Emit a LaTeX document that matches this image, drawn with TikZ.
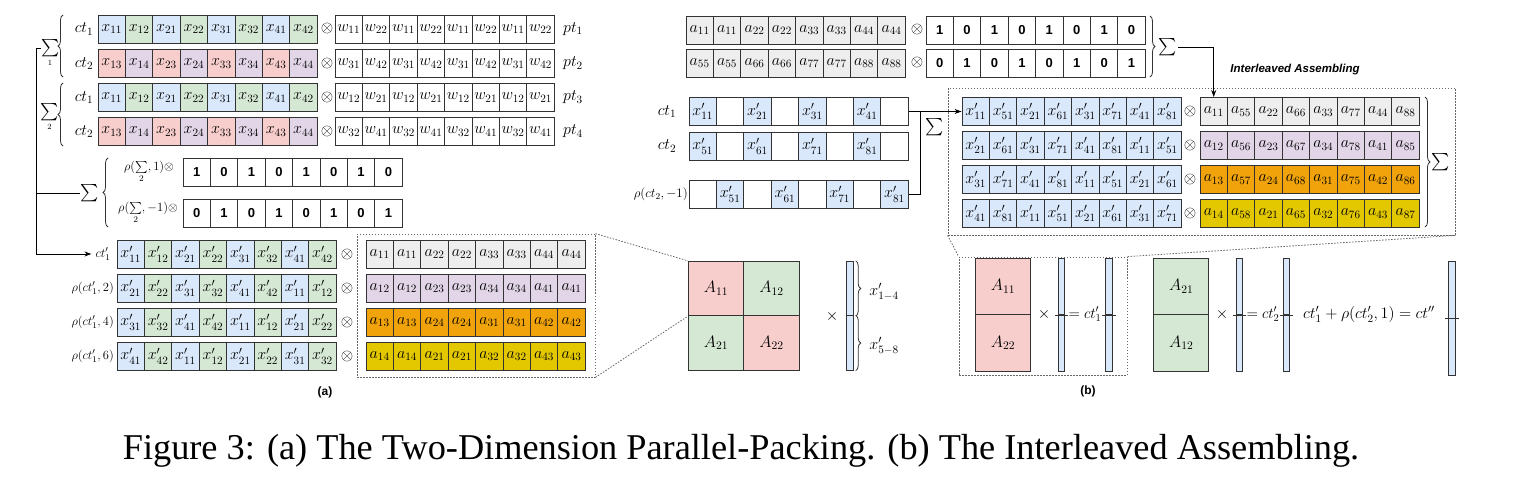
\documentclass[tikz,border=0pt]{standalone}
\usepackage{fix-cm}
\usepackage{exscale}
\usepackage{fontspec}
\newfontfamily\arialf{Liberation Sans}
\newfontfamily\timesf{Liberation Serif}
\usetikzlibrary{arrows.meta,decorations.pathreplacing}
\definecolor{bl}{HTML}{DAE8FC}
\definecolor{gn}{HTML}{D5E8D4}
\definecolor{pk}{HTML}{F8CECC}
\definecolor{vi}{HTML}{E1D5E7}
\definecolor{gy}{HTML}{EEEEEE}
\definecolor{og}{HTML}{F0A30A}
\definecolor{ye}{HTML}{E3C800}
\colorlet{wh}{white}
% une ligne de cases : nom, bord gauche, hauteur, liste texte/couleur
\newcommand{\cellrow}[4]{\foreach \t/\c [count=\i] in {#4}
  \node[cell,fill=\c] (#1-\i) at ({#2+27.4*\i-13.7},#3) {$\t$};}
\newcommand{\numrow}[4]{\foreach \t [count=\i] in {#4}
  \node[cell,fill=white,num] (#1-\i) at ({#2+27.4*\i-13.7},#3) {\t};}

\begin{document}
\begin{tikzpicture}[x=1pt,y=-1pt,
  every node/.style={font=\fontsize{16}{19}\selectfont,inner sep=1pt},
  cell/.style={draw=black!80,line width=0.9pt,minimum width=27.4pt,minimum height=28pt,inner sep=0pt},
  num/.style={font=\arialf\bfseries\fontsize{13}{15}\selectfont},
  sm/.style={font=\fontsize{12.5}{14}\selectfont},
  big/.style={font=\fontsize{18}{20}\selectfont},
  mat/.style={draw=black!80,line width=0.9pt,minimum width=55.5pt,minimum height=54.5pt,inner sep=0pt,font=\fontsize{16.5}{18}\selectfont},
  vbar/.style={draw=black!80,line width=0.9pt,fill=bl,minimum width=6.5pt,inner sep=0pt},
  br/.style={decorate,decoration={brace,amplitude=5pt},line width=0.8pt,black!80},
  dot/.style={dash pattern=on 1.5pt off 1.5pt,line width=0.8pt,black!60},
  ar/.style={-{Stealth[length=7pt,width=5pt]},line width=0.8pt}]

\useasboundingbox (0,0) rectangle (1520,497);

% partie (a)
\cellrow{xa}{98}{29}{x_{11}/bl,x_{12}/gn,x_{21}/bl,x_{22}/gn,x_{31}/bl,x_{32}/gn,x_{41}/bl,x_{42}/gn}
\cellrow{xb}{98}{63.5}{x_{13}/pk,x_{14}/vi,x_{23}/pk,x_{24}/vi,x_{33}/pk,x_{34}/vi,x_{43}/pk,x_{44}/vi}
\cellrow{xc}{98}{97.5}{x_{11}/bl,x_{12}/gn,x_{21}/bl,x_{22}/gn,x_{31}/bl,x_{32}/gn,x_{41}/bl,x_{42}/gn}
\cellrow{xd}{98}{131.5}{x_{13}/pk,x_{14}/vi,x_{23}/pk,x_{24}/vi,x_{33}/pk,x_{34}/vi,x_{43}/pk,x_{44}/vi}
\node (ca) at (84,29) {$ct_1$};
\node (cb) at (84,63.5) {$ct_2$};
\node (cc) at (84,97.5) {$ct_1$};
\node (cd) at (84,131.5) {$ct_2$};
\foreach \y [count=\k] in {29,63.5,97.5,131.5} \node (ox\k) at (327,\y) {$\otimes$};
\cellrow{wa}{335}{29}{w_{11}/wh,w_{22}/wh,w_{11}/wh,w_{22}/wh,w_{11}/wh,w_{22}/wh,w_{11}/wh,w_{22}/wh}
\cellrow{wb}{335}{63.5}{w_{31}/wh,w_{42}/wh,w_{31}/wh,w_{42}/wh,w_{31}/wh,w_{42}/wh,w_{31}/wh,w_{42}/wh}
\cellrow{wc}{335}{97.5}{w_{12}/wh,w_{21}/wh,w_{12}/wh,w_{21}/wh,w_{12}/wh,w_{21}/wh,w_{12}/wh,w_{21}/wh}
\cellrow{wd}{335}{131.5}{w_{32}/wh,w_{41}/wh,w_{32}/wh,w_{41}/wh,w_{32}/wh,w_{41}/wh,w_{32}/wh,w_{41}/wh}
\foreach \y [count=\k] in {29,63.5,97.5,131.5} \node (pt\k) at (573,\y) {$pt_\k$};

\draw[br] (63,77) -- (63,15);
\draw[br] (63,146) -- (63,83);
\node[big] (s1) at (51,48) {$\sum$};
\node[font=\fontsize{8}{9}\selectfont] (s1n) at (50,63) {$1$};
\node[big] (s2) at (49.5,112) {$\sum$};
\node[font=\fontsize{8}{9}\selectfont] (s2n) at (49.5,127) {$2$};

\node[big] (s3) at (90,193) {$\sum$};
\draw[br] (108,227) -- (108,158);
\node[sm] (m1l) at (149,172) {$\rho(\sum\limits_2,1)\otimes$};
\node[sm] (m2l) at (148,213) {$\rho(\sum\limits_2,-1)\otimes$};
\numrow{ma}{183}{172.5}{1,0,1,0,1,0,1,0}
\numrow{mb}{183}{213.5}{0,1,0,1,0,1,0,1}

\cellrow{pa}{117}{254}{x'_{11}/bl,x'_{12}/gn,x'_{21}/bl,x'_{22}/gn,x'_{31}/bl,x'_{32}/gn,x'_{41}/bl,x'_{42}/gn}
\cellrow{pb}{117}{288}{x'_{21}/bl,x'_{22}/gn,x'_{31}/bl,x'_{32}/gn,x'_{41}/bl,x'_{42}/gn,x'_{11}/bl,x'_{12}/gn}
\cellrow{pc}{117}{322}{x'_{31}/bl,x'_{32}/gn,x'_{41}/bl,x'_{42}/gn,x'_{11}/bl,x'_{12}/gn,x'_{21}/bl,x'_{22}/gn}
\cellrow{pd}{117}{356}{x'_{41}/bl,x'_{42}/gn,x'_{11}/bl,x'_{12}/gn,x'_{21}/bl,x'_{22}/gn,x'_{31}/bl,x'_{32}/gn}
\node[sm] (lp1) at (103,254) {$ct'_1$};
\node[sm,anchor=east] (lp2) at (115,288) {$\rho(ct'_1,2)$};
\node[sm,anchor=east] (lp3) at (115,322) {$\rho(ct'_1,4)$};
\node[sm,anchor=east] (lp4) at (115,356) {$\rho(ct'_1,6)$};
\foreach \y [count=\k] in {254,288,322,356} \node (op\k) at (347,\y) {$\otimes$};
\cellrow{aa}{366}{254}{a_{11}/gy,a_{11}/gy,a_{22}/gy,a_{22}/gy,a_{33}/gy,a_{33}/gy,a_{44}/gy,a_{44}/gy}
\cellrow{ab}{366}{288}{a_{12}/vi,a_{12}/vi,a_{23}/vi,a_{23}/vi,a_{34}/vi,a_{34}/vi,a_{41}/vi,a_{41}/vi}
\cellrow{ac}{366}{322}{a_{13}/og,a_{13}/og,a_{24}/og,a_{24}/og,a_{31}/og,a_{31}/og,a_{42}/og,a_{42}/og}
\cellrow{ad}{366}{356}{a_{14}/ye,a_{14}/ye,a_{21}/ye,a_{21}/ye,a_{32}/ye,a_{32}/ye,a_{43}/ye,a_{43}/ye}

\coordinate (tr) at (36,48);
\draw[line width=0.8pt] (s1.west) -- (tr);
\draw[ar,shorten >=3pt] (tr) |- (lp1.west);
\draw[line width=0.8pt] (s3.west) -- (s3.west -| tr);

\node[dot,draw,minimum width=238pt,minimum height=143pt,inner sep=0pt] (za) at (476,305.5) {};
\node[mat,fill=pk] (A11) at (716,288.5) {$A_{11}$};
\node[mat,fill=gn] (A12) at (771.5,288.5) {$A_{12}$};
\node[mat,fill=gn] (A21) at (716,343) {$A_{21}$};
\node[mat,fill=pk] (A22) at (771.5,343) {$A_{22}$};
\draw[dot] (za.north east) -- (A11.north west);
\draw[dot] (za.south east) -- (A11.south west);
\node (tx1) at (832,316) {$\times$};
\node[vbar,minimum height=54.5pt] (v1) at (850,288.5) {};
\node[vbar,minimum height=54.5pt] (v2) at (850,343) {};
\draw[br] ([xshift=2pt]v1.north east) -- ([xshift=2pt]v1.south east);
\draw[br] ([xshift=2pt]v2.north east) -- ([xshift=2pt]v2.south east);
\node (v1l) at (884,292) {$x'_{1-4}$};
\node (v2l) at (884,346) {$x'_{5-8}$};
\node[font=\arialf\bfseries\fontsize{12}{14}\selectfont] (la) at (325,392) {(a)};

% partie (b)
\cellrow{ta}{686}{30}{a_{11}/gy,a_{11}/gy,a_{22}/gy,a_{22}/gy,a_{33}/gy,a_{33}/gy,a_{44}/gy,a_{44}/gy}
\cellrow{tb}{686}{63}{a_{55}/gy,a_{55}/gy,a_{66}/gy,a_{66}/gy,a_{77}/gy,a_{77}/gy,a_{88}/gy,a_{88}/gy}
\node (ot1) at (917,30) {$\otimes$};
\node (ot2) at (917,63) {$\otimes$};
\numrow{na}{926}{30}{1,0,1,0,1,0,1,0}
\numrow{nb}{926}{63}{0,1,0,1,0,1,0,1}
\draw[br] (1150,16) -- (1150,77);
\node[big] (st) at (1168,47) {$\sum$};
\node[font=\arialf\bfseries\itshape\fontsize{11.5}{13}\selectfont] (ilabel) at (1295,70) {Interleaved Assembling};

\cellrow{sa}{689}{111.5}{x'_{11}/bl,\,/wh,x'_{21}/bl,\,/wh,x'_{31}/bl,\,/wh,x'_{41}/bl,\,/wh}
\cellrow{sb}{689}{146}{x'_{51}/bl,\,/wh,x'_{61}/bl,\,/wh,x'_{71}/bl,\,/wh,x'_{81}/bl,\,/wh}
\cellrow{sc}{689}{194}{\,/wh,x'_{51}/bl,\,/wh,x'_{61}/bl,\,/wh,x'_{71}/bl,\,/wh,x'_{81}/bl}
\node (cs1) at (667,111.5) {$ct_1$};
\node (cs2) at (667,146) {$ct_2$};
\node[font=\fontsize{13}{15}\selectfont,anchor=east] (cs3) at (689,194) {$\rho(ct_2,-1)$};
\node[big] (sm) at (935,127) {$\sum$};

\cellrow{ia}{962}{111.5}{x'_{11}/bl,x'_{51}/bl,x'_{21}/bl,x'_{61}/bl,x'_{31}/bl,x'_{71}/bl,x'_{41}/bl,x'_{81}/bl}
\cellrow{ib}{962}{145.5}{x'_{21}/bl,x'_{61}/bl,x'_{31}/bl,x'_{71}/bl,x'_{41}/bl,x'_{81}/bl,x'_{11}/bl,x'_{51}/bl}
\cellrow{ic}{962}{179.5}{x'_{31}/bl,x'_{71}/bl,x'_{41}/bl,x'_{81}/bl,x'_{11}/bl,x'_{51}/bl,x'_{21}/bl,x'_{61}/bl}
\cellrow{id}{962}{213.5}{x'_{41}/bl,x'_{81}/bl,x'_{11}/bl,x'_{51}/bl,x'_{21}/bl,x'_{61}/bl,x'_{31}/bl,x'_{71}/bl}
\foreach \y [count=\k] in {111.5,145.5,179.5,213.5} \node (oi\k) at (1190,\y) {$\otimes$};
\cellrow{ra}{1200}{111.5}{a_{11}/gy,a_{55}/gy,a_{22}/gy,a_{66}/gy,a_{33}/gy,a_{77}/gy,a_{44}/gy,a_{88}/gy}
\cellrow{rb}{1200}{145.5}{a_{12}/vi,a_{56}/vi,a_{23}/vi,a_{67}/vi,a_{34}/vi,a_{78}/vi,a_{41}/vi,a_{85}/vi}
\cellrow{rc}{1200}{179.5}{a_{13}/og,a_{57}/og,a_{24}/og,a_{68}/og,a_{31}/og,a_{75}/og,a_{42}/og,a_{86}/og}
\cellrow{rd}{1200}{213.5}{a_{14}/ye,a_{58}/ye,a_{21}/ye,a_{65}/ye,a_{32}/ye,a_{76}/ye,a_{43}/ye,a_{87}/ye}
\draw[br] (1425,97) -- (1425,227);
\node[big] (sr) at (1441,162) {$\sum$};

\coordinate (jn) at (920,111.5);
\draw[ar] (sa-8.east) -- (ia-1.west);
\draw[line width=0.8pt] (sc-8.east) -| (jn);
\draw[ar] (st.east) -| (ra-1.north);

\node[dot,draw,minimum width=507pt,minimum height=147pt,inner sep=0pt] (zb) at (1201.5,161.5) {};
\node[dot,draw,minimum width=168pt,minimum height=118pt,inner sep=0pt] (zc) at (1043,316) {};
\draw[dot] (zb.south west) -- (zc.north west);
\draw[dot] (zb.south east) -- (zc.north east);

\node[mat,fill=pk,minimum width=55pt,minimum height=56.5pt] (P11) at (1003,286.25) {$A_{11}$};
\node[mat,fill=pk,minimum width=55pt,minimum height=56.5pt] (P22) at (1003,342.75) {$A_{22}$};
\node (tx2) at (1044,314.5) {$\times$};
\node[vbar,minimum height=56.5pt] (q1a) at (1061.5,286.25) {};
\node[vbar,minimum height=56.5pt] (q1b) at (1061.5,342.75) {};
\node[font=\fontsize{15}{18}\selectfont] (e1) at (1085,314.5) {$=ct'_1$};
\node[vbar,minimum height=56.5pt] (q2a) at (1109,286.25) {};
\node[vbar,minimum height=56.5pt] (q2b) at (1109,342.75) {};
\node[mat,fill=gn,minimum width=55pt,minimum height=56.5pt] (G21) at (1181.3,286.25) {$A_{21}$};
\node[mat,fill=gn,minimum width=55pt,minimum height=56.5pt] (G12) at (1181.3,342.75) {$A_{12}$};
\node (tx3) at (1222,314.5) {$\times$};
\node[vbar,minimum height=56.5pt] (q3a) at (1239.5,286.25) {};
\node[vbar,minimum height=56.5pt] (q3b) at (1239.5,342.75) {};
\node[font=\fontsize{15}{18}\selectfont] (e2) at (1263,314.5) {$=ct'_2$};
\node[vbar,minimum height=56.5pt] (q4a) at (1286.5,286.25) {};
\node[vbar,minimum height=56.5pt] (q4b) at (1286.5,342.75) {};
\node[font=\fontsize{16}{18}\selectfont] (e3) at (1369,314.5) {$ct'_1+\rho(ct'_2,1)=ct''$};
\node[vbar,minimum height=56.75pt] (q5a) at (1452,289.9) {};
\node[vbar,minimum height=56.75pt] (q5b) at (1452,346.6) {};
\foreach \q in {q1a,q2a,q3a,q4a,q5a}
  \draw[line width=0.9pt,black!80] ([xshift=-3pt]\q.south west) -- ([xshift=3pt]\q.south east);
\node[font=\arialf\bfseries\fontsize{12}{14}\selectfont] (lb) at (1088,391) {(b)};

\node[font=\timesf\fontsize{36.3}{42}\selectfont] (cap) at (741,451) {Figure 3: (a) The Two-Dimension Parallel-Packing. (b) The Interleaved Assembling.};

\end{tikzpicture}
\end{document}
